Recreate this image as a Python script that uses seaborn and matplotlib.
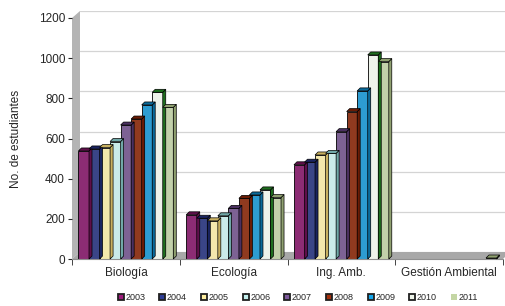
import pandas as pd
import matplotlib.pyplot as plt
import seaborn as sns
from matplotlib.patches import Polygon
from matplotlib.lines import Line2D
from matplotlib.transforms import IdentityTransform

carreras = ["Biología", "Ecología", "Ing. Amb.", "Gestión Ambiental"]
anios = ["2003", "2004", "2005", "2006", "2007", "2008", "2009", "2010", "2011"]
biologia = [538, 548, 555, 585, 667, 697, 767, 830, 755]
ecologia = [220, 203, 190, 215, 252, 302, 319, 344, 306]
ing_amb = [469, 482, 518, 526, 634, 734, 837, 1016, 983]
gestion = [0, 0, 0, 0, 0, 0, 0, 0, 5]
colores = ["#9C1C7C", "#2D3C94", "#FFEFA0", "#C4F0EE", "#7D5A9C",
           "#A3300C", "#12A6EC", "#EEF4EA", "#C4D6A4"]
lados = ["#5E0F4A", "#1A2460", "#C8B060", "#70A8A8", "#4A3060",
         "#6A1C05", "#0A6A9A", "#1E6E1E", "#8FA070"]

rows = []
for c, vals in zip(carreras, [biologia, ecologia, ing_amb, gestion]):
    for a, v in zip(anios, vals):
        rows.append({"carrera": c, "anio": a, "n": v})
df = pd.DataFrame(rows)

sns.set_style("white")
plt.rcParams["font.family"] = ["Liberation Sans", "DejaVu Sans"]

W, H = 506, 306
fig = plt.figure(figsize=(W / 100, H / 100), dpi=100)

def rect(x0, y0, x1, y1):
    return [x0 / W, 1 - y1 / H, (x1 - x0) / W, (y1 - y0) / H]

# back wall with gridlines (3D depth offset)
back = fig.add_axes(rect(80, 11, 510, 252))
back.set_zorder(-3)
back.set_ylim(0, 1200)
back.set_yticks(range(0, 1201, 200))
back.set_xticks([])
back.tick_params(left=False, labelleft=False)
back.grid(axis="y", color="#D4D4D4", linewidth=0.9)
for s in back.spines.values():
    s.set_visible(False)

# left wall and floor
fig.patches.append(Polygon([(72 / W, 1 - 259 / H), (80 / W, 1 - 252 / H),
                            (80 / W, 1 - 11 / H), (72 / W, 1 - 18 / H)],
                           closed=True, transform=fig.transFigure,
                           facecolor="#B4B4B4", edgecolor="none", zorder=-2))
fig.patches.append(Polygon([(72 / W, 1 - 259 / H), (80 / W, 1 - 252 / H),
                            (510 / W, 1 - 252 / H), (503 / W, 1 - 259 / H)],
                           closed=True, transform=fig.transFigure,
                           facecolor="#A8A8A8", edgecolor="none", zorder=-2))

ax = fig.add_axes(rect(72, 18, 503, 259))
ax.patch.set_alpha(0)
sns.barplot(data=df, x="carrera", y="n", hue="anio", palette=colores,
            width=0.88, edgecolor="black", linewidth=0.6, ax=ax, legend=False)
ax.set_ylim(0, 1200)
ax.set_xlim(-0.5, 3.5)
ax.set_yticks(range(0, 1201, 200))
ax.set_xlabel("")
ax.set_ylabel("No. de estudiantes", fontsize=8.5)
ax.tick_params(axis="y", labelsize=8.5, length=3, direction="out", left=True, pad=2)
ax.tick_params(axis="x", which="major", labelsize=8.5, length=0, pad=6)
ax.set_xticks([-0.5, 0.5, 1.5, 2.5, 3.5], minor=True)
ax.tick_params(axis="x", which="minor", length=4, direction="out", bottom=True)
for s in ["top", "right", "left"]:
    ax.spines[s].set_visible(False)
ax.spines["bottom"].set_color("#909090")
ax.yaxis.set_label_coords(-0.115, 0.5)

# 3D caps and side faces for each bar, from the bars seaborn drew
fig.canvas.draw()
d = 3
for i, bar in enumerate(ax.patches):
    if bar.get_height() <= 0:
        continue
    k = i // len(carreras)
    x0, y0 = bar.get_x(), bar.get_y()
    x1, y1 = x0 + bar.get_width(), y0 + bar.get_height()
    (px0, py0), (px1, py1) = ax.transData.transform([(x0, y0), (x1, y1)])
    top = Polygon([(px0, py1), (px1, py1), (px1 + d, py1 + d), (px0 + d, py1 + d)],
                  closed=True, transform=IdentityTransform(), zorder=2,
                  facecolor=lados[k], edgecolor="black", linewidth=0.5)
    side = Polygon([(px1, py0), (px1 + d, py0 + d), (px1 + d, py1 + d), (px1, py1)],
                   closed=True, transform=IdentityTransform(), zorder=2,
                   facecolor=lados[k], edgecolor="black", linewidth=0.5)
    for p in (side, top):
        p.set_figure(fig)
        fig.artists.append(p)

handles = []
for i, (a, col) in enumerate(zip(anios, colores)):
    handles.append(Line2D([], [], marker="s", linestyle="none", markersize=5,
                          markerfacecolor=col,
                          markeredgecolor="none" if i == 8 else "#202020",
                          markeredgewidth=1.3, label=a))
fig.legend(handles=handles, loc="center", ncol=9, frameon=False,
           bbox_to_anchor=(297 / W, 1 - 298 / H), fontsize=6.5,
           handletextpad=0.0, columnspacing=1.4, handlelength=1.0)

fig.savefig("out.png", dpi=100)
